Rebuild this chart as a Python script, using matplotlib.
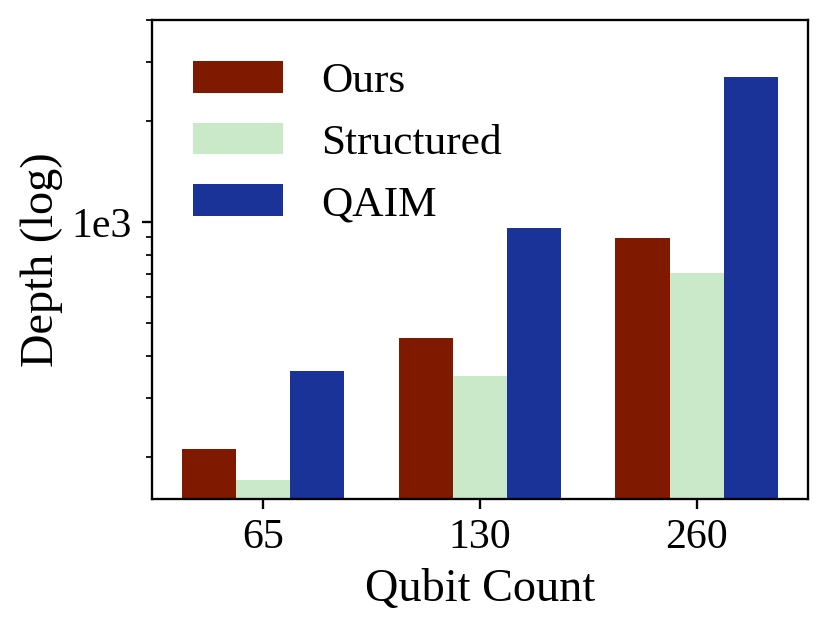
import matplotlib
matplotlib.use("Agg")
import matplotlib.pyplot as plt
import matplotlib.ticker as mticker
import numpy as np

# Font setup (Times-like serif)
plt.rcParams["font.family"] = ["Liberation Serif", "DejaVu Serif"]

# Data
qubit_counts = ["65", "130", "260"]
depth_ours = [210, 450, 897]
depth_structured = [170, 347, 707]
depth_qaim = [361, 963, 2710]

series_labels = ["Ours", "Structured", "QAIM"]
series_colors = ["#7f1a00", "#c9e9c9", "#1a3399"]

x = np.arange(len(qubit_counts))
width = 0.25

fig = plt.figure(figsize=(4, 630 / 208), dpi=208)
ax = fig.add_axes([0.1827, 0.2087, 0.971 - 0.1827, 0.968 - 0.2087])

for i, (vals, lab, col) in enumerate(zip([depth_ours, depth_structured, depth_qaim],
                                         series_labels, series_colors)):
    ax.bar(x + (i - 1) * width, vals, width, color=col, label=lab)

ax.set_yscale("log")
ax.set_ylim(150, 4000)

# Only label the 1e3 major tick
ax.yaxis.set_major_locator(mticker.FixedLocator([1000]))
ax.yaxis.set_major_formatter(mticker.FixedFormatter(["1e3"]))
ax.yaxis.set_minor_locator(mticker.LogLocator(base=10, subs=np.arange(2, 10)))
ax.yaxis.set_minor_formatter(mticker.NullFormatter())

ax.set_xticks(x)
ax.set_xticklabels(qubit_counts)
ax.tick_params(axis="both", labelsize=14.5)

ax.set_xlabel("Qubit Count", fontsize=16)
ax.set_ylabel("Depth (log)", fontsize=16, labelpad=3)

ax.legend(loc="upper left", frameon=False, fontsize=15,
          handlelength=2.08, handleheight=0.74, handletextpad=0.88,
          labelspacing=0.5, borderaxespad=0.55)

fig.savefig("out.png", dpi=208)
